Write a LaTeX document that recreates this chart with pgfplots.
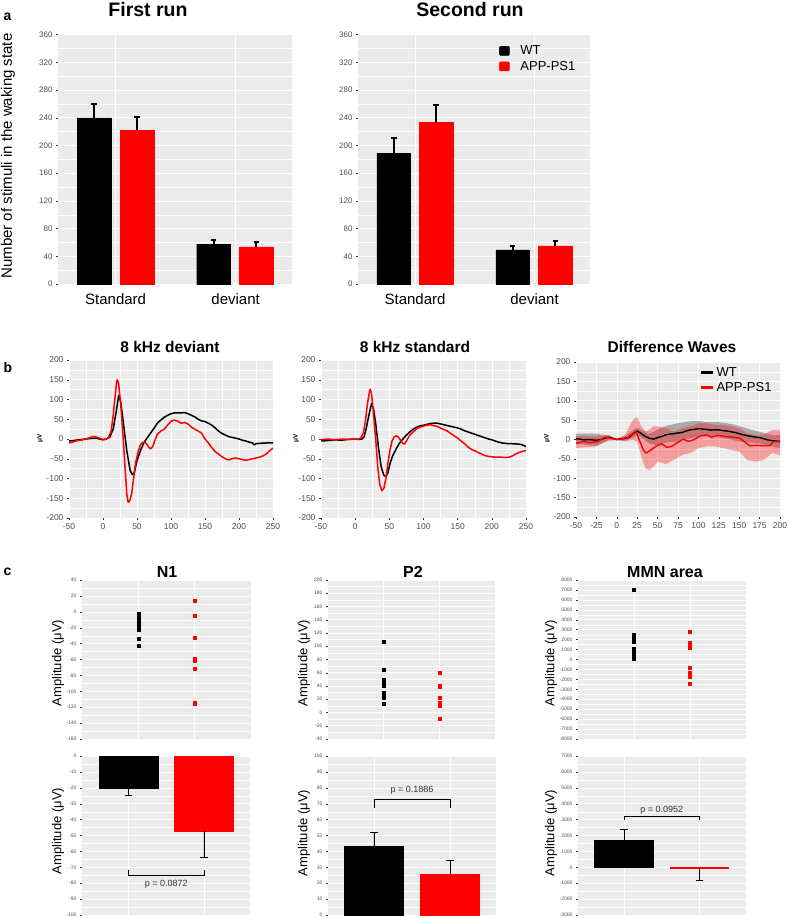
\documentclass[border=0pt]{standalone}
\usepackage{pgfplots}
\pgfplotsset{compat=1.18}
\usepackage{fontspec}
\setmainfont{Liberation Sans}
\definecolor{ggbg}{HTML}{EBEBEB}
\definecolor{ggred}{HTML}{FF0000}
\definecolor{ggtext}{HTML}{4D4D4D}
\definecolor{ggtick}{HTML}{333333}
\pgfplotsset{
  gg/.style={
    scale only axis,
    axis background/.style={fill=ggbg},
    axis line style={draw=none},
    xmajorgrids, ymajorgrids, yminorgrids,
    major grid style={white, line width=0.6pt},
    minor grid style={white, line width=0.3pt},
    minor y tick num=1,
    minor tick length=0pt,
    tick align=outside,
    major tick length=2pt,
    xtick pos=bottom, ytick pos=left,
    tick style={ggtick, line width=0.4pt},
    tick label style={text=ggtext},
    /pgf/number format/assume math mode=true,
    /pgf/number format/1000 sep={},
    scaled ticks=false,
  },
  barA/.style={ybar, bar width=0.282, bar shift=0, forget plot,
    error bars/y dir=plus, error bars/y explicit,
    error bars/error bar style={black, line width=2pt},
    error bars/error mark options={black, rotate=90, line width=2pt, mark size=2.8pt}},
  barC/.style={ybar, bar width=0.78, bar shift=0, forget plot,
    error bars/y dir=#1, error bars/y explicit,
    error bars/error bar style={black, line width=0.7pt},
    error bars/error mark options={black, rotate=90, line width=0.7pt, mark size=3.8pt}},
  dotC/.style={only marks, mark=square*, mark size=1.6pt},
  waveB/.style={line width=1.5pt, line join=round},
}
\begin{document}
\begin{tikzpicture}
\useasboundingbox (0pt,0pt) rectangle (788pt,-918pt);

% ---------------- Panel a ----------------
\begin{axis}[gg, at={(58pt,-284pt)}, anchor=south west, width=234pt, height=250pt,
  xmin=0.52, xmax=2.47, ymin=0, ymax=361, ytick={0,40,...,360},
  xtick={1,2}, xticklabels={Standard,deviant}, xtick style={draw=none},
  xticklabel style={font=\fontsize{15}{18}\selectfont, text=black, yshift=-4pt},
  yticklabel style={font=\fontsize{8}{9}\selectfont}]
\addplot[barA, fill=black, draw=black] coordinates {(0.822,240) +- (0,20) (1.817,57.6) +- (0,6.4)};
\addplot[barA, fill=ggred, draw=ggred] coordinates {(1.178,221.8) +- (0,19.2) (2.174,53.7) +- (0,6.3)};
\end{axis}

\begin{axis}[gg, at={(358pt,-284pt)}, anchor=south west, width=232pt, height=250pt,
  xmin=0.523, xmax=2.464, ymin=0, ymax=361, ytick={0,40,...,360},
  xtick={1,2}, xticklabels={Standard,deviant}, xtick style={draw=none},
  xticklabel style={font=\fontsize{15}{18}\selectfont, text=black, yshift=-4pt},
  yticklabel style={font=\fontsize{8}{9}\selectfont},
  legend style={at={(0.595,0.97)}, anchor=north west, draw=none, fill=none,
    font=\fontsize{13}{15}\selectfont, row sep=1pt, nodes={inner sep=2pt}},
  legend cell align=left]
\addplot[barA, fill=black, draw=black] coordinates {(0.822,189) +- (0,21.8) (1.817,49.4) +- (0,4.9)};
\addplot[barA, fill=ggred, draw=ggred] coordinates {(1.178,233) +- (0,26) (2.174,55.2) +- (0,7.2)};
\addlegendimage{legend image code/.code={\fill[black, rounded corners=1pt] (0pt,-4.5pt) rectangle (10pt,4.5pt); \path[draw=none, fill=none] (0pt,0pt) rectangle (19pt,0.1pt);}}
\addlegendentry{WT}
\addlegendimage{legend image code/.code={\fill[ggred, rounded corners=1pt] (0pt,-4.5pt) rectangle (10pt,4.5pt); \path[draw=none, fill=none] (0pt,0pt) rectangle (19pt,0.1pt);}}
\addlegendentry{APP-PS1}
\end{axis}

% ---------------- Panel b ----------------
\begin{axis}[gg, at={(69pt,-518pt)}, anchor=south west, width=204pt, height=158pt,
  xmin=-50, xmax=250, ymin=-200, ymax=200,
  xtick={-50,0,...,250}, ytick={-200,-150,...,200},
  minor x tick num=1, xminorgrids,
  tick label style={font=\fontsize{8.5}{10}\selectfont}]
\addplot[waveB, black] coordinates {(-50,-5) (-40,-3) (-30,-1) (-20,1) (-10,2) (0,-2) (5,0) (10,5) (15,25) (20,75) (23,110) (26,95) (30,40) (35,-30) (40,-80) (43,-90) (46,-85) (50,-55) (55,-30) (60,-10) (65,3) (70,15) (75,27) (80,40) (85,48) (90,55) (95,60) (100,64) (105,66) (110,66) (115,66) (120,67) (125,64) (130,60) (135,56) (140,50) (145,46) (150,44) (155,40) (160,35) (165,28) (170,20) (175,14) (180,10) (185,6) (190,4) (195,2) (200,0) (205,-3) (210,-5) (215,-8) (220,-10) (222,-15) (225,-12) (230,-11) (240,-10) (250,-10)};
\addplot[waveB, ggred] coordinates {(-50,-10) (-45,-8) (-40,-5) (-30,-2) (-20,3) (-15,6) (-10,5) (-5,2) (0,-1) (5,0) (8,3) (12,20) (15,60) (18,110) (20,145) (21,150) (23,140) (26,90) (29,20) (32,-60) (35,-140) (37,-160) (39,-158) (42,-140) (45,-100) (48,-60) (52,-30) (55,-15) (58,-9) (61,-8) (64,-12) (67,-20) (70,-25) (73,-20) (76,-5) (80,12) (85,20) (90,25) (95,35) (100,45) (105,48) (110,45) (115,40) (120,42) (125,38) (130,30) (135,25) (140,20) (145,15) (150,0) (155,-10) (160,-22) (165,-32) (170,-38) (175,-45) (180,-50) (185,-53) (190,-50) (195,-48) (200,-50) (205,-52) (210,-54) (215,-52) (220,-50) (225,-48) (230,-46) (235,-43) (240,-38) (245,-30) (250,-23)};
\end{axis}

\begin{axis}[gg, at={(321pt,-518pt)}, anchor=south west, width=205pt, height=158pt,
  xmin=-50, xmax=250, ymin=-200, ymax=200,
  xtick={-50,0,...,250}, ytick={-200,-150,...,200},
  minor x tick num=1, xminorgrids,
  tick label style={font=\fontsize{8.5}{10}\selectfont}]
\addplot[waveB, black] coordinates {(-50,-5) (-40,-4) (-30,-2) (-20,-3) (-10,-1) (0,0) (5,-1) (10,0) (13,5) (16,25) (20,60) (24,90) (27,75) (30,40) (34,-20) (38,-70) (42,-92) (45,-95) (48,-85) (51,-62) (55,-42) (60,-25) (65,-10) (70,0) (75,10) (80,18) (85,25) (90,30) (95,33) (100,35) (105,37) (110,39) (115,40) (120,40) (125,38) (130,36) (140,32) (150,28) (155,25) (160,21) (165,18) (170,15) (175,12) (180,9) (185,6) (190,3) (195,0) (200,-2) (205,-5) (210,-8) (215,-10) (220,-11) (225,-12) (230,-12) (240,-13) (245,-15) (250,-19)};
\addplot[waveB, ggred] coordinates {(-50,-2) (-40,0) (-30,-2) (-20,0) (-10,-1) (0,0) (5,0) (8,2) (12,15) (15,45) (18,90) (21,120) (22,126) (24,115) (27,60) (30,0) (33,-70) (36,-115) (39,-131) (42,-125) (45,-100) (48,-60) (51,-27) (54,-5) (57,5) (60,8) (63,5) (66,-2) (69,-10) (72,-13) (75,-5) (80,10) (85,18) (90,26) (95,30) (100,33) (105,35) (110,36) (115,34) (120,32) (125,28) (130,24) (135,20) (140,14) (145,8) (150,2) (155,-5) (160,-12) (165,-20) (170,-26) (175,-30) (180,-34) (185,-38) (190,-42) (195,-44) (200,-45) (205,-46) (210,-46) (215,-46) (220,-47) (225,-46) (230,-43) (235,-38) (240,-34) (245,-31) (250,-29)};
\end{axis}

\begin{axis}[gg, at={(576pt,-517pt)}, anchor=south west, width=204pt, height=155pt,
  xmin=-50, xmax=200, ymin=-200, ymax=200,
  xtick={-50,-25,...,200}, ytick={-200,-150,...,200},
  tick label style={font=\fontsize{8.5}{10}\selectfont},
  legend style={at={(0.59,0.99)}, anchor=north west, draw=none, fill=none,
    font=\fontsize{13}{15}\selectfont, row sep=0pt, nodes={inner sep=2pt}},
  legend cell align=left]
\addplot[forget plot, draw=none, fill=gray, fill opacity=0.6] coordinates {(-50,15) (-25,15) (-10,10) (0,2) (10,8) (20,25) (25,30) (30,25) (40,15) (50,25) (60,35) (75,42) (90,47) (100,48) (110,45) (125,45) (140,40) (150,35) (165,25) (175,20) (190,12) (200,12) (200,-22) (190,-18) (175,-10) (165,-8) (150,-5) (140,0) (125,5) (110,8) (100,8) (90,3) (75,-5) (60,-8) (50,-15) (40,-10) (30,5) (25,12) (20,5) (10,-3) (0,-2) (-10,-3) (-25,-16) (-50,-11)} -- cycle;
\addplot[forget plot, draw=none, fill=ggred, fill opacity=0.33] coordinates {(-50,9) (-25,8) (-10,12) (0,1) (10,12) (20,51) (25,58) (30,34) (35,21) (40,25) (45,34) (50,34) (60,29) (70,21) (80,29) (90,34) (100,42) (110,42) (120,38) (130,38) (140,34) (150,29) (160,16) (170,12) (180,12) (190,25) (200,25) (200,-40) (190,-35) (180,-53) (170,-57) (160,-53) (150,-31) (140,-27) (130,-22) (120,-18) (110,-18) (100,-22) (90,-35) (80,-40) (70,-53) (60,-63) (50,-57) (45,-70) (40,-79) (35,-74) (30,-44) (25,-5) (20,-1) (10,-5) (0,-1) (-10,-1) (-25,-18) (-50,-22)} -- cycle;
\addplot[forget plot, line width=1.4pt, line join=round, black] coordinates {(-50,2) (-45,1) (-40,-1) (-35,0) (-30,-1) (-25,-2) (-20,0) (-15,3) (-10,6) (-5,3) (0,0) (5,2) (10,3) (15,5) (20,15) (25,22) (30,15) (35,8) (40,3) (45,1) (50,5) (55,8) (60,12) (65,14) (70,15) (75,17) (80,18) (85,22) (90,25) (95,26) (100,28) (105,27) (110,26) (115,24) (120,25) (125,25) (130,23) (135,22) (140,20) (145,18) (150,15) (155,12) (160,10) (165,8) (170,6) (175,5) (180,2) (185,-1) (190,-3) (195,-4) (200,-5)};
\addplot[forget plot, line width=1.4pt, line join=round, ggred] coordinates {(-50,-10) (-41,-5) (-33,-8) (-23,-5) (-15,6) (-6,3) (0,0) (12,3) (20,16) (23.5,22) (27.5,-1) (32.5,-27) (36,-35) (40.5,-29) (49,-16) (55,-11) (61,-20) (67,-18) (73,-10) (81.5,1) (87.5,-5) (94,-1) (102,9) (110,12) (116,6) (124,11) (132.5,8) (143,6) (151,3) (159,-10) (163,-16) (171,-15) (179.5,-16) (187.5,-16) (192,-5) (200,-6)};
\addlegendimage{legend image code/.code={\draw[black, line width=3pt] (0pt,0pt) -- (12pt,0pt);}}
\addlegendentry{WT}
\addlegendimage{legend image code/.code={\draw[ggred, line width=3pt] (0pt,0pt) -- (12pt,0pt);}}
\addlegendentry{APP-PS1}
\end{axis}

% ---------------- Panel c ----------------
\begin{axis}[gg, at={(82pt,-739pt)}, anchor=south west, width=169pt, height=159pt,
  xmin=0, xmax=3, ymin=-160, ymax=40, ytick={-160,-140,...,40},
  xtick={1,2}, xticklabels={}, xtick style={draw=none},
  tick label style={font=\fontsize{5}{6}\selectfont}]
\addplot[dotC, black] coordinates {(1,-3) (1,-7) (1,-11) (1,-15) (1,-19) (1,-23) (1,-34) (1,-43)};
\addplot[dotC, ggred] coordinates {(2,14) (2,-5) (2,-33) (2,-59) (2,-61) (2,-72) (2,-115)};
\end{axis}
\begin{axis}[gg, at={(82pt,-915pt)}, anchor=south west, width=168pt, height=159pt,
  xmin=0.384, xmax=2.61, ymin=-100, ymax=0, ytick={-100,-90,...,0},
  xtick={1,2}, xticklabels={}, xtick style={draw=none},
  tick label style={font=\fontsize{5}{6}\selectfont}]
\addplot[barC=minus, fill=black, draw=black] coordinates {(1,-20.2) +- (0,4.8)};
\addplot[barC=minus, fill=ggred, draw=ggred] coordinates {(2,-47.3) +- (0,16.4)};
\draw[black, line width=0.7pt] (axis cs:1,-71.5) -- (axis cs:1,-75.2) -- (axis cs:2,-75.2) -- (axis cs:2,-71.5);
\node[font=\fontsize{9}{10}\selectfont, text=ggtick] at (axis cs:1.5,-80.5) {p = 0.0872};
\end{axis}
\begin{axis}[gg, at={(328pt,-739pt)}, anchor=south west, width=167pt, height=159pt,
  xmin=0, xmax=3, ymin=-40, ymax=200, ytick={-40,-20,...,200},
  xtick={1,2}, xticklabels={}, xtick style={draw=none},
  tick label style={font=\fontsize{5}{6}\selectfont}]
\addplot[dotC, black] coordinates {(1,107) (1,65) (1,49) (1,45) (1,41) (1,29) (1,25) (1,22) (1,13)};
\addplot[dotC, ggred] coordinates {(2,60) (2,41) (2,39) (2,22) (2,14) (2,10) (2,-9)};
\end{axis}
\begin{axis}[gg, at={(328pt,-915pt)}, anchor=south west, width=168pt, height=159pt,
  xmin=0.395, xmax=2.605, ymin=0, ymax=100, ytick={0,10,...,100},
  xtick={1,2}, xticklabels={}, xtick style={draw=none},
  tick label style={font=\fontsize{5}{6}\selectfont}]
\addplot[barC=plus, fill=black, draw=black] coordinates {(1,43.2) +- (0,8.5)};
\addplot[barC=plus, fill=ggred, draw=ggred] coordinates {(2,25.6) +- (0,8.7)};
\draw[black, line width=0.7pt] (axis cs:1,67.2) -- (axis cs:1,72.8) -- (axis cs:2,72.8) -- (axis cs:2,67.2);
\node[font=\fontsize{9}{10}\selectfont, text=ggtick] at (axis cs:1.5,78.6) {p = 0.1886};
\end{axis}
\begin{axis}[gg, at={(578pt,-739pt)}, anchor=south west, width=168pt, height=159pt,
  xmin=0, xmax=3, ymin=-8000, ymax=8000, ytick={-8000,-7000,...,8000},
  xtick={1,2}, xticklabels={}, xtick style={draw=none},
  tick label style={font=\fontsize{5}{6}\selectfont}]
\addplot[dotC, black] coordinates {(1,7060) (1,2460) (1,2230) (1,1790) (1,1100) (1,900) (1,700) (1,500) (1,300) (1,100)};
\addplot[dotC, ggred] coordinates {(2,2800) (2,1730) (2,1230) (2,-820) (2,-1290) (2,-1730) (2,-2400)};
\end{axis}
\begin{axis}[gg, at={(578pt,-915pt)}, anchor=south west, width=168pt, height=159pt,
  xmin=0.39, xmax=2.616, ymin=-3000, ymax=7000, ytick={-3000,-2000,...,7000},
  xtick={1,2}, xticklabels={}, xtick style={draw=none},
  tick label style={font=\fontsize{5}{6}\selectfont}]
\addplot[barC=plus, fill=black, draw=black] coordinates {(1,1707) +- (0,670)};
\addplot[barC=minus, fill=ggred, draw=ggred, line width=1pt] coordinates {(2,-50) +- (0,753)};
\draw[black, line width=0.7pt] (axis cs:1,2962) -- (axis cs:1,3213) -- (axis cs:2,3213) -- (axis cs:2,2962);
\node[font=\fontsize{9}{10}\selectfont, text=ggtick] at (axis cs:1.5,3560) {p = 0.0952};
\end{axis}

% ---------------- Text ----------------
\node[font=\fontsize{14}{16}\selectfont\bfseries, anchor=west] at (0pt,-17pt) {a};
\node[font=\fontsize{14}{16}\selectfont\bfseries, anchor=west] at (0pt,-367pt) {b};
\node[font=\fontsize{14}{16}\selectfont\bfseries, anchor=west] at (0pt,-572pt) {c};
\node[font=\fontsize{19.5}{22}\selectfont\bfseries] at (148pt,-10pt) {First run};
\node[font=\fontsize{19.5}{22}\selectfont\bfseries] at (470pt,-10pt) {Second run};
\node[rotate=90, font=\fontsize{15}{18}\selectfont] at (8pt,-156pt) {Number of stimuli in the waking state};
\node[font=\fontsize{15.5}{18}\selectfont\bfseries] at (170pt,-347pt) {8 kHz deviant};
\node[font=\fontsize{15.5}{18}\selectfont\bfseries] at (415pt,-347pt) {8 kHz standard};
\node[font=\fontsize{15.5}{18}\selectfont\bfseries] at (672pt,-347pt) {Difference Waves};
\node[rotate=90, font=\fontsize{6.5}{8}\selectfont\bfseries] at (40pt,-438pt) {μV};
\node[rotate=90, font=\fontsize{6.5}{8}\selectfont\bfseries] at (296pt,-438pt) {μV};
\node[rotate=90, font=\fontsize{6.5}{8}\selectfont\bfseries] at (547pt,-438pt) {μV};
\node[font=\fontsize{16}{19}\selectfont\bfseries] at (167pt,-572pt) {N1};
\node[font=\fontsize{16}{19}\selectfont\bfseries] at (413pt,-572pt) {P2};
\node[font=\fontsize{16}{19}\selectfont\bfseries] at (665pt,-572pt) {MMN area};
\node[rotate=90, font=\fontsize{13}{15}\selectfont] at (58pt,-663pt) {Amplitude (μV)};
\node[rotate=90, font=\fontsize{13}{15}\selectfont] at (58pt,-831pt) {Amplitude (μV)};
\node[rotate=90, font=\fontsize{13}{15}\selectfont] at (304pt,-663pt) {Amplitude (μV)};
\node[rotate=90, font=\fontsize{13}{15}\selectfont] at (304pt,-833pt) {Amplitude (μV)};
\node[rotate=90, font=\fontsize{13}{15}\selectfont] at (551pt,-663pt) {Amplitude (μV)};
\node[rotate=90, font=\fontsize{13}{15}\selectfont] at (551pt,-833pt) {Amplitude (μV)};
\end{tikzpicture}
\end{document}
